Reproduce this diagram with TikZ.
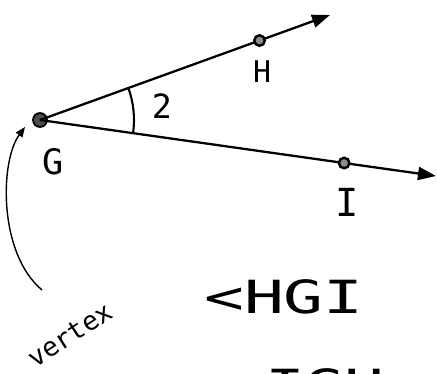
\documentclass[tikz,border=0pt]{standalone}
\usepackage{fontspec}
\setmainfont{DejaVu Sans Mono}
\usetikzlibrary{arrows.meta,angles}

\begin{document}
\begin{tikzpicture}[x=0.02cm, y=0.02cm,
	vdot/.style={circle, draw=black, fill=black!70, line width=1pt, inner sep=0pt, minimum size=0.28cm},
	pdot/.style={circle, draw=black, fill=black!45, line width=1.4pt, inner sep=0pt, minimum size=0.21cm},
	ray/.style={black, line width=1.3pt, -{Triangle[length=0.36cm, width=0.26cm]}},
	hand/.style={inner sep=0pt, font=\fontsize{#1}{#1}\selectfont}]
\useasboundingbox (0,0) rectangle (437,373);
% vertex and the two rays
\node[vdot] (G) at (40,253) {};
\coordinate (Hend) at (330,358);
\coordinate (Iend) at (436,197);
\draw[ray] (G.center) -- node[pdot, pos=0.757] (H) {} (Hend);
\draw[ray] (G.center) -- node[pdot, pos=0.768] (I) {} (Iend);
% angle 2
\pic[draw=black, line width=1.2pt, angle radius=1.88cm] {angle = I--G--H};
% labels
\node[hand=20] (Glab) at (53,211) {G};
\node[hand=17] (Hlab) at (262,301) {H};
\node[hand=22] (Ilab) at (347,171) {I};
\node[hand=19] (two) at (162,267) {2};
\node[hand=26] (name1) at (284,76) {\scalebox{1.45}[1]{<HGI}};
\node[hand=26] (name2) at (305,-13) {\scalebox{1.45}[1]{<IGH}};
% vertex note
\node[hand=15, rotate=33] (vertex) at (70,38) {vertex};
\coordinate (vtail) at (42,83);
\coordinate (vtip) at (25,246);
\draw[black, line width=0.8pt, -{Triangle[length=0.2cm, width=0.16cm]}]
	(vtail) .. controls (-2,120) and (0,212) .. (vtip);
\end{tikzpicture}
\end{document}
